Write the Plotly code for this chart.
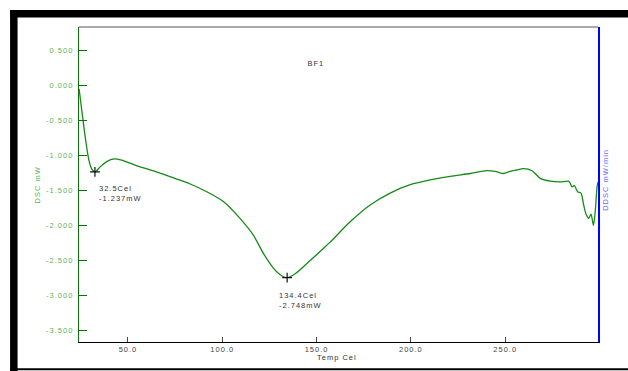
import plotly.graph_objects as go

# DSC trace for sample BF1: temperature (Cel) vs heat flow (mW)
temp_c = [24.1, 25.3, 26.8, 28.1, 29.3, 30.7, 32.5, 35.1, 38.7, 42.7, 46.7, 53.7,
          64.3, 74.9, 83.0, 91.8, 100.6, 109.4, 116.5, 121.8, 127.1, 131.5, 134.4,
          139.2, 146.3, 153.6, 157.2, 167.8, 178.4, 189.0, 199.6, 210.2, 220.8,
          231.4, 240.3, 244.7, 249.1, 252.6, 256.0, 259.7, 264.2, 268.6, 273.9,
          279.2, 283.6, 284.5, 285.4, 286.6, 288.4, 290.2, 291.6, 293.0, 294.3,
          295.5, 296.8, 297.8, 298.7, 299.2]
dsc_mw = [-0.05, -0.31, -0.63, -0.88, -1.07, -1.19, -1.237, -1.17, -1.09, -1.05, -1.07, -1.14,
          -1.23, -1.33, -1.41, -1.52, -1.66, -1.90, -2.14, -2.40, -2.61, -2.72, -2.748,
          -2.68, -2.51, -2.33, -2.24, -1.95, -1.71, -1.54, -1.42, -1.35, -1.30,
          -1.26, -1.22, -1.23, -1.26, -1.23, -1.21, -1.19, -1.22, -1.33, -1.37,
          -1.38, -1.37, -1.40, -1.45, -1.43, -1.52, -1.54, -1.71, -1.85, -1.90,
          -1.84, -2.00, -1.78, -1.45, -1.38]

# labelled peaks
peak_t = [32.5, 134.4]
peak_v = [-1.237, -2.748]
peak_shift = [(2, -10), (-10, -11)]

x_ticks = [50, 100, 150, 200, 250]
x_ticktext = ["50.0", "100.0", "150.0", "200.0", "250.0"]
y_ticks = [0.5, 0.0, -0.5, -1.0, -1.5, -2.0, -2.5, -3.0, -3.5]
y_ticktext = ["0.500", "0.000", "-0.500", "-1.000", "-1.500", "-2.000", "-2.500", "-3.000", "-3.500"]

X_RANGE = [24.05, 299.2]
Y_RANGE = [-3.666, 0.832]

W, H = 628, 371
L, R, T, B = 79, 598.5, 27, 342.3
PW, PH = R - L, B - T


def px(x):
    return (x - L) / PW


def py(y):
    return (B - y) / PH


FONT = "Liberation Sans, Arial, sans-serif"
LINE_GREEN = "#158a15"
AXIS_GREEN = "#0a700a"
LABEL_GREEN = "#5ab45a"

fig = go.Figure()
fig.add_trace(go.Scatter(
    x=temp_c, y=dsc_mw, mode="lines",
    line=dict(color=LINE_GREEN, width=1.3, shape="spline", smoothing=0.7),
    hoverinfo="skip", showlegend=False,
))
fig.add_trace(go.Scatter(
    x=peak_t, y=peak_v, mode="markers",
    marker=dict(symbol="cross-thin", size=7, line=dict(color="#111111", width=1.2)),
    hoverinfo="skip", showlegend=False,
))
# empty trace carrying the right-hand DDSC axis
fig.add_trace(go.Scatter(x=[], y=[], yaxis="y2", showlegend=False))

annotations = []
for t, v, (dx, dy) in zip(peak_t, peak_v, peak_shift):
    annotations.append(dict(
        x=t, y=v, xref="x", yref="y", xanchor="left", yanchor="top",
        xshift=dx, yshift=dy, showarrow=False, align="left",
        text=f"{t:.1f}Cel<br>{v:.3f}mW",
        font=dict(family=FONT, size=7.5, color="#333333"),
    ))


def label(x, y, text, color, angle=0):
    return dict(x=px(x), y=py(y), xref="paper", yref="paper", showarrow=False,
                xanchor="center", yanchor="middle", text=text, textangle=angle,
                font=dict(family=FONT, size=7.5, color=color))


annotations += [
    label(37, 184.5, "DSC mW", LABEL_GREEN, -90),
    label(606, 180, "DDSC mW/min", "#6b6bff", -90),
    label(337, 358, "Temp Cel", "#333333"),
    label(316, 64, "BF1", "#333333"),
]

shapes = [
    # outer black frame
    dict(type="rect", xref="paper", yref="paper", x0=px(10), x1=px(640),
         y0=py(17.5), y1=py(10), fillcolor="black", line=dict(width=0), layer="above"),
    dict(type="rect", xref="paper", yref="paper", x0=px(10), x1=px(17.5),
         y0=py(380), y1=py(10), fillcolor="black", line=dict(width=0), layer="above"),
    dict(type="line", xref="paper", yref="paper", x0=px(10), x1=px(640),
         y0=py(369.5), y1=py(369.5), line=dict(color="black", width=2)),
    # top border of the plotting area
    dict(type="line", xref="paper", yref="paper", x0=0, x1=1, y0=1, y1=1,
         line=dict(color="#555555", width=1)),
]

fig.update_layout(
    width=W, height=H,
    margin=dict(l=L, r=W - R, t=T, b=H - B, pad=0),
    paper_bgcolor="white", plot_bgcolor="white",
    font=dict(family=FONT, size=7.5),
    xaxis=dict(
        range=X_RANGE, tickvals=x_ticks, ticktext=x_ticktext,
        showline=True, linecolor="black", linewidth=1.2,
        ticks="inside", ticklen=5, tickwidth=1, tickcolor="#444444",
        tickfont=dict(family=FONT, size=7.5, color="#444444"),
        showgrid=False, zeroline=False,
    ),
    yaxis=dict(
        range=Y_RANGE, tickvals=y_ticks, ticktext=y_ticktext,
        showline=True, linecolor=AXIS_GREEN, linewidth=1.3,
        ticks="inside", ticklen=8, tickwidth=1.2, tickcolor=AXIS_GREEN,
        tickfont=dict(family=FONT, size=7.5, color=LABEL_GREEN),
        showgrid=False, zeroline=False, ticklabelstandoff=3,
    ),
    yaxis2=dict(
        range=Y_RANGE, overlaying="y", side="right",
        showline=True, linecolor="#0000ff", linewidth=1.5,
        showticklabels=False, ticks="", showgrid=False, zeroline=False,
    ),
    annotations=annotations,
    shapes=shapes,
)

# widen the glyph spacing of all labels
spacing_js = ("document.querySelectorAll('svg text').forEach(function(t)"
              "{t.style.letterSpacing='1px';});")

fig.write_html("out.html", post_script=spacing_js)
